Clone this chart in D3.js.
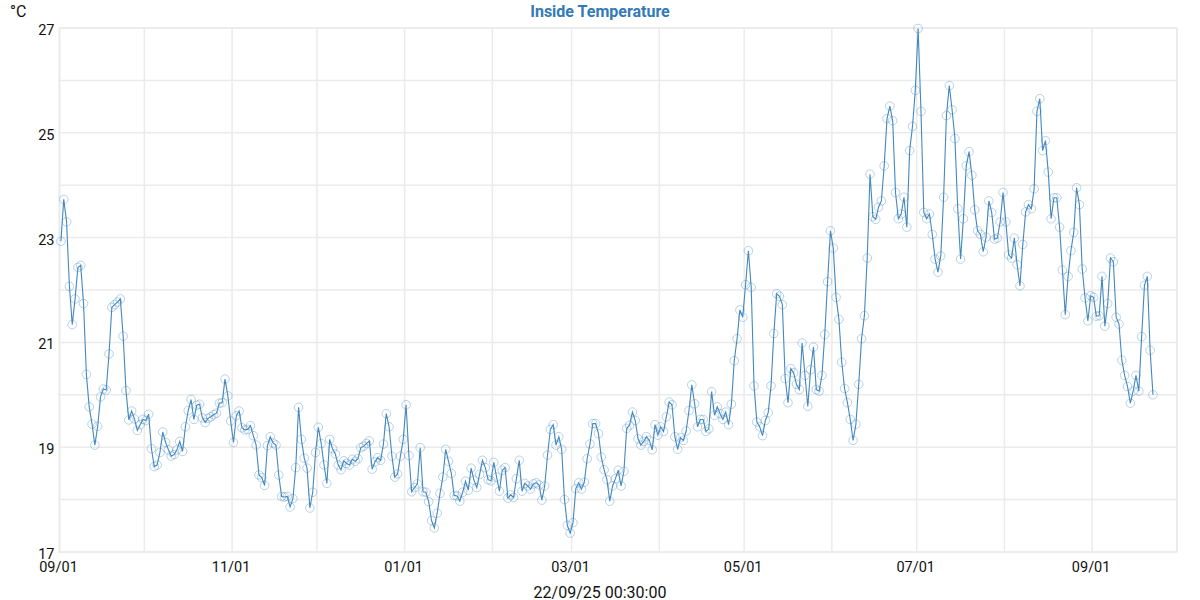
<!DOCTYPE html>
<html><head><meta charset="utf-8">
<script src="https://cdn.jsdelivr.net/npm/d3@7"></script>
<style>html,body{margin:0;padding:0;background:#fff}svg{display:block}text{font-family:Roboto,sans-serif}</style>
</head><body><svg id="c" width="1200" height="600"></svg>
<script>
const titleText = "Inside Temperature";
const unitText = "°C";
const footerText = "22/09/25 00:30:00";
const firstSample = "2024-09-01T12:00:00Z";
const domainStart = "2024-09-01T00:00:00Z";
const domainEnd = "2025-10-01T00:00:00Z";
const yTicks = [17,18,19,20,21,22,23,24,25,26,27];
const temps = [
22.93,23.73,23.30,22.07,21.34,21.83,22.43,22.47,21.74,20.39,
19.77,19.44,19.04,19.40,19.96,20.11,20.09,20.78,21.67,21.72,
21.77,21.83,21.12,20.08,19.52,19.69,19.54,19.32,19.43,19.53,
19.51,19.63,18.97,18.63,18.66,18.90,19.29,19.09,18.95,18.83,
18.86,18.95,19.11,18.92,19.39,19.70,19.91,19.53,19.80,19.82,
19.56,19.47,19.55,19.58,19.62,19.65,19.84,19.85,20.30,19.98,
19.50,19.09,19.60,19.69,19.37,19.33,19.34,19.41,19.22,19.04,
18.47,18.42,18.27,19.03,19.20,19.08,19.04,18.47,18.06,18.05,
18.06,17.86,18.02,18.61,19.76,19.15,18.79,18.60,17.84,18.14,
18.90,19.38,19.07,18.66,18.31,19.15,18.97,18.87,18.66,18.57,
18.74,18.69,18.66,18.77,18.73,18.78,18.99,19.02,19.07,19.12,
18.58,18.72,18.80,18.75,19.06,19.64,19.39,18.83,18.43,18.49,
18.83,19.15,19.81,18.84,18.15,18.23,18.30,18.99,18.15,18.14,
17.96,17.60,17.46,17.74,18.12,18.43,18.96,18.73,18.50,18.08,
18.07,17.97,18.14,18.35,18.18,18.60,18.37,18.23,18.48,18.75,
18.61,18.38,18.36,18.71,18.43,18.16,18.56,18.61,18.03,18.09,
18.04,18.40,18.75,18.16,18.31,18.26,18.20,18.30,18.32,18.28,
17.99,18.26,18.85,19.34,19.43,19.04,19.20,18.96,18.00,17.51,
17.36,17.56,18.21,18.32,18.20,18.33,18.78,19.06,19.45,19.45,
19.26,18.81,18.57,18.38,17.97,18.26,18.40,18.56,18.26,18.54,
19.36,19.42,19.67,19.51,19.16,19.04,19.11,19.20,19.13,18.95,
19.43,19.23,19.39,19.30,19.58,19.86,19.81,19.20,18.96,19.18,
19.13,19.31,19.70,20.19,19.83,19.39,19.53,19.53,19.30,19.35,
20.06,19.61,19.77,19.64,19.53,19.67,19.43,19.82,20.65,21.07,
21.62,21.48,22.10,22.75,22.05,20.17,19.48,19.39,19.22,19.51,
19.66,20.17,21.17,21.93,21.88,21.72,20.31,19.85,20.50,20.42,
20.20,20.10,20.99,20.37,19.78,20.48,20.91,20.10,20.07,20.37,
21.15,22.16,23.13,22.80,21.86,21.44,20.62,20.12,19.85,19.53,
19.13,19.44,20.20,21.07,21.51,22.61,24.21,23.40,23.35,23.58,
23.70,24.37,25.27,25.51,25.23,23.86,23.36,23.45,23.77,23.20,
24.66,25.12,25.81,26.99,25.41,23.48,23.36,23.45,23.06,22.59,
22.34,22.65,23.77,25.33,25.90,25.44,24.89,23.55,22.59,23.36,
24.37,24.64,24.19,23.53,23.13,23.06,22.73,23.01,23.70,23.48,
22.97,22.99,23.30,23.86,23.30,22.67,22.61,22.99,22.48,22.08,
22.87,23.49,23.63,23.55,23.93,25.41,25.65,24.66,24.85,24.25,
23.36,23.76,23.76,23.20,22.38,21.53,22.26,22.75,23.10,23.95,
23.63,22.40,21.85,21.41,21.89,21.86,21.50,21.51,22.26,21.31,
21.74,22.61,22.54,21.48,21.35,20.66,20.37,20.16,19.84,20.07,
20.37,20.07,21.11,22.09,22.26,20.85,20.00];

const gridColor = "#ebebeb", lineColor = "#4488be", dotColor = "rgba(61,133,189,0.36)";
const svg = d3.select("#c");
const x = d3.scaleUtc().domain([new Date(domainStart), new Date(domainEnd)]).range([59.5,1177]);
const y = d3.scaleLinear().domain([17,27]).range([552,28]);
const t0 = new Date(firstSample);
const pts = temps.map((v,i)=>({date:d3.utcDay.offset(t0,i),v}));
const fmt = d3.utcFormat("%m/%d");

const xAxis = d3.axisBottom(x).ticks(d3.utcMonth.every(1)).offset(0)
  .tickSize(-(552-28)).tickPadding(0)
  .tickFormat(d=>d.getUTCMonth()%2===0 ? fmt(d) : "");
const yAxis = d3.axisLeft(y).tickValues(yTicks).offset(0)
  .tickSize(-(1177-59.5)).tickPadding(5)
  .tickFormat(d=>d%2===1 ? d : "");

const gx = svg.append("g").attr("transform","translate(0,552)").call(xAxis);
const gy = svg.append("g").attr("transform","translate(59.5,0)").call(yAxis);
[gx,gy].forEach(g=>{
  g.select(".domain").attr("stroke",gridColor).attr("stroke-width",1.5);
  g.selectAll(".tick line").attr("stroke",gridColor).attr("stroke-width",1.5);
  g.selectAll("text").attr("fill","#111").style("font-size","14.5px");
});
gy.selectAll(".tick text").attr("dy","7px");
gx.selectAll(".tick text").attr("y",19.5).attr("dy","0").attr("dx","-1");
svg.append("line").attr("x1",1177).attr("x2",1177).attr("y1",28).attr("y2",552).attr("stroke",gridColor).attr("stroke-width",1.5);

svg.append("path").datum(pts)
  .attr("fill","none").attr("stroke",lineColor).attr("stroke-width",1.1)
  .attr("d",d3.line().x(d=>x(d.date)).y(d=>y(d.v)));
svg.append("g").selectAll("circle").data(pts).join("circle")
  .attr("cx",d=>x(d.date)).attr("cy",d=>y(d.v)).attr("r",4.3)
  .attr("fill","none").attr("stroke",dotColor).attr("stroke-width",1);

svg.append("text").attr("x",600).attr("y",17).attr("text-anchor","middle")
  .attr("fill","#337ab7").style("font-size","16px").style("font-weight","700").text(titleText);
svg.append("text").attr("x",10).attr("y",17).attr("fill","#111").style("font-size","16px").text(unitText);
svg.append("text").attr("x",600).attr("y",597.5).attr("text-anchor","middle")
  .attr("fill","#111").style("font-size","16px").text(footerText);
</script></body></html>
